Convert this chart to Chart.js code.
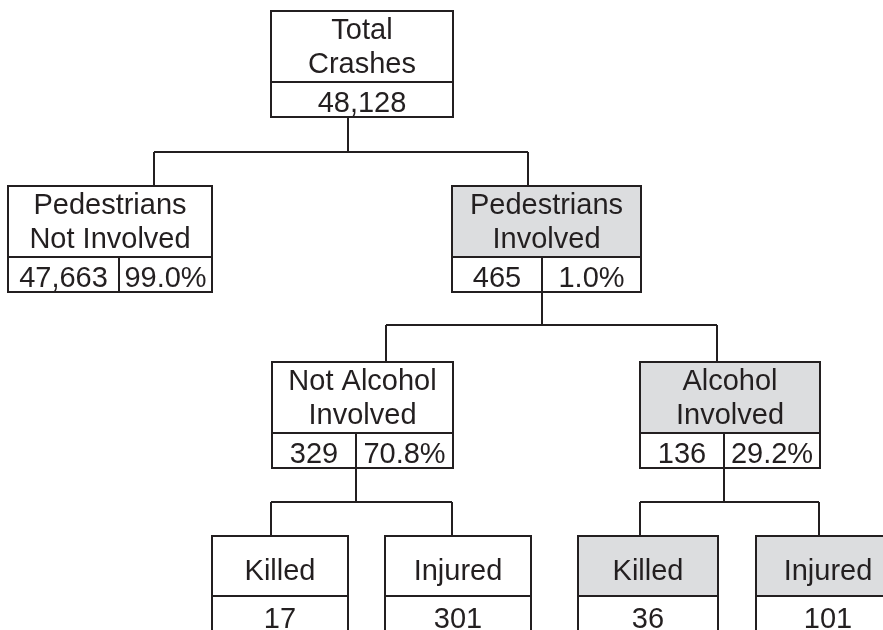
<!DOCTYPE html>
<html>
<head>
<meta charset="utf-8">
<title>Pedestrian crashes</title>
<script src="https://cdn.jsdelivr.net/npm/chart.js@4/dist/chart.umd.min.js"></script>
<style>
    body { margin: 0; background: #ffffff; }
    #tree { display: block; }
</style>
</head>
<body>
<canvas id="tree" width="883" height="630"></canvas>
<script>
// data
const nodeLabels = [
    ['Total', 'Crashes'],
    ['Pedestrians', 'Not Involved'],
    ['Pedestrians', 'Involved'],
    ['Not Alcohol', 'Involved'],
    ['Alcohol', 'Involved'],
    ['Killed'],
    ['Injured'],
    ['Killed'],
    ['Injured']
];
const nodeCounts = [48128, 47663, 465, 329, 136, 17, 301, 36, 101];
const nodeShares = [null, 99.0, 1.0, 70.8, 29.2, null, null, null, null];
const nodeParents = [-1, 0, 0, 2, 2, 3, 3, 4, 4];
const nodeHighlighted = [false, false, true, false, true, false, false, true, true];

// layout (scale units, kept apart from the data)
const boxLeft  = [271, 8, 452, 272, 640, 212, 385, 578, 756];
const boxRight = [453, 212, 641, 453, 820, 348, 531, 718, 900];
const boxTop   = [11, 186, 186, 362, 362, 536, 536, 536, 536];
const splitX   = [348, 119, 542, 356, 724, null, null, null, null];
const dropX    = [null, 154, 528, 386, 717, 271, 452, 640, 819];
const busY     = [152, null, 325, 502, 502];

const ink = '#231f20';
const shade = '#dcdddf';
const font = '29px "Liberation Sans", Arial, sans-serif';

function boxGeometry(i) {
    const twoLine = nodeLabels[i].length > 1;
    const top = boxTop[i];
    const divider = top + (twoLine ? 71 : 60);
    return {
        top: top,
        divider: divider,
        bottom: twoLine ? top + 106 : top + 130,
        countBase: divider + (twoLine ? 30 : 32)
    };
}

// connector segments built from the tree
const connectors = [];
nodeParents.forEach(function(p, i) {
    if (p < 0) return;
    connectors.push([{ x: dropX[i], y: busY[p] }, { x: dropX[i], y: boxTop[i] }]);
});
busY.forEach(function(y, p) {
    if (y === null || y === undefined) return;
    const kids = [];
    nodeParents.forEach(function(q, i) { if (q === p) kids.push(dropX[i]); });
    connectors.push([{ x: Math.min.apply(null, kids), y: y }, { x: Math.max.apply(null, kids), y: y }]);
    connectors.push([{ x: splitX[p], y: boxGeometry(p).bottom }, { x: splitX[p], y: y }]);
});

const boxPlugin = {
    id: 'treeBoxes',
    afterDatasetsDraw: function(chart) {
        const ctx = chart.ctx;
        const xs = chart.scales.x;
        const ys = chart.scales.y;
        ctx.save();
        ctx.font = font;
        ctx.textAlign = 'center';
        ctx.textBaseline = 'alphabetic';
        for (let i = 0; i < nodeLabels.length; i++) {
            const g = boxGeometry(i);
            const l = xs.getPixelForValue(boxLeft[i]);
            const r = xs.getPixelForValue(boxRight[i]);
            const t = ys.getPixelForValue(g.top);
            const d = ys.getPixelForValue(g.divider);
            const b = ys.getPixelForValue(g.bottom);

            ctx.fillStyle = nodeHighlighted[i] ? shade : '#ffffff';
            ctx.fillRect(l, t, r - l, d - t);
            ctx.fillStyle = '#ffffff';
            ctx.fillRect(l, d, r - l, b - d);

            ctx.strokeStyle = ink;
            ctx.lineWidth = 2;
            ctx.strokeRect(l, t, r - l, b - t);
            ctx.beginPath();
            ctx.moveTo(l, d);
            ctx.lineTo(r, d);
            if (nodeShares[i] !== null && splitX[i] !== null) {
                const s = xs.getPixelForValue(splitX[i]);
                ctx.moveTo(s, d);
                ctx.lineTo(s, b);
            }
            ctx.stroke();

            ctx.fillStyle = ink;
            const cx = (l + r) / 2;
            if (nodeLabels[i].length > 1) {
                ctx.fillText(nodeLabels[i][0], cx, ys.getPixelForValue(g.top + 28));
                ctx.fillText(nodeLabels[i][1], cx, ys.getPixelForValue(g.top + 62));
            } else {
                ctx.fillText(nodeLabels[i][0], cx, ys.getPixelForValue(g.top + 44));
            }
            const countText = nodeCounts[i].toLocaleString('en-US');
            const base = ys.getPixelForValue(g.countBase);
            if (nodeShares[i] !== null) {
                const s = xs.getPixelForValue(splitX[i]);
                ctx.fillText(countText, (l + s) / 2, base);
                ctx.fillText(nodeShares[i].toFixed(1) + '%', (s + r) / 2, base);
            } else {
                ctx.fillText(countText, cx, base);
            }
        }
        ctx.restore();
    }
};

new Chart(document.getElementById('tree'), {
    type: 'scatter',
    data: {
        datasets: connectors.map(function(seg) {
            return {
                data: seg,
                showLine: true,
                borderColor: ink,
                borderWidth: 2,
                pointRadius: 0,
                pointHoverRadius: 0
            };
        })
    },
    options: {
        responsive: false,
        animation: false,
        layout: { padding: 0 },
        scales: {
            x: { type: 'linear', min: 0, max: 883, display: false },
            y: { type: 'linear', min: 0, max: 630, reverse: true, display: false }
        },
        plugins: {
            legend: { display: false },
            tooltip: { enabled: false }
        },
        events: []
    },
    plugins: [boxPlugin]
});
</script>
</body>
</html>
